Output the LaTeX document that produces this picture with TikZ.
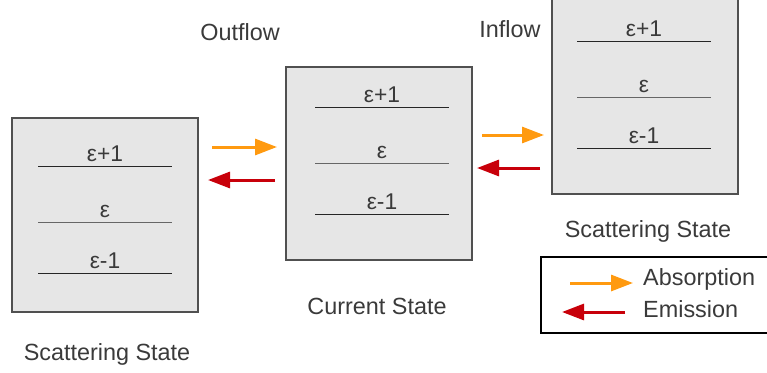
\documentclass[tikz,border=0pt]{standalone}
\usepackage{fontspec}
\setmainfont{Liberation Sans}
\usetikzlibrary{arrows.meta}
\definecolor{txt}{HTML}{3A3A3A}
\definecolor{boxfill}{HTML}{E6E6E6}
\definecolor{boxline}{HTML}{505050}
\definecolor{absorb}{HTML}{FF9A10}
\definecolor{emit}{HTML}{C8000A}
\tikzset{
  statebox/.style={draw=boxline, line width=1.4pt, fill=boxfill, minimum width=186pt, inner sep=0pt},
  level/.style={line width=0.9pt, draw=black!85},
  midlevel/.style={line width=0.9pt, draw=black!60},
  lvl/.style={anchor=south, inner sep=0pt, yshift=4pt, text=txt, font=\fontsize{22.8}{26}\selectfont},
  lbl/.style={text=txt, inner sep=0pt, font=\fontsize{23.4}{27}\selectfont},
  absarrow/.style={draw=absorb, line width=3pt, -{Triangle[length=22pt,width=16pt]}},
  emiarrow/.style={draw=emit, line width=3pt, -{Triangle[length=22pt,width=16pt]}},
}
% three energy levels inside a box: x-from, x-to, y of the three lines
\newcommand\energylevels[5]{%
  \draw[level] (#1,#3) -- node[lvl, pos=0.5] {ε+1} (#2,#3);
  \draw[midlevel] (#1,#4) -- node[lvl, pos=0.5] {ε} (#2,#4);
  \draw[level] (#1,#5) -- node[lvl, pos=0.5] {ε-1} (#2,#5);
}
\begin{document}
\begin{tikzpicture}[x=1pt, y=-1pt]
\useasboundingbox (0,0) rectangle (767,372);

% state boxes
\node[statebox, minimum height=194pt] (L) at (105,215) {};
\node[statebox, minimum height=193pt] (C) at (379,163.5) {};
\node[statebox, minimum height=195pt] (R) at (645,96.5) {};

\energylevels{38}{172}{166}{222}{273}
\energylevels{315}{449}{107}{163}{214}
\energylevels{577}{711}{41}{97}{148}

% captions
\node[lbl] (capL) at (107,354) {Scattering State};
\node[lbl] (capC) at (377,306) {Current State};
\node[lbl] (capR) at (648,231) {Scattering State};
\node[lbl] (out) at (240,32) {Outflow};
\node[lbl] (in) at (510,29) {Inflow};

% transfers between the boxes
\coordinate (a1s) at (212,147); \coordinate (a1e) at (277,147);
\coordinate (e1s) at (275,180); \coordinate (e1e) at (208,180);
\coordinate (a2s) at (482,135); \coordinate (a2e) at (544,135);
\coordinate (e2s) at (540,168); \coordinate (e2e) at (477,168);
\draw[absarrow] (a1s) -- (a1e);
\draw[emiarrow] (e1s) -- (e1e);
\draw[absarrow] (a2s) -- (a2e);
\draw[emiarrow] (e2s) -- (e2e);

% legend
\node[draw=black, line width=1.4pt, minimum width=227pt, minimum height=76pt, inner sep=0pt] (leg) at (654.5,295) {};
\coordinate (la1) at (570,283); \coordinate (la2) at (633,283);
\coordinate (le1) at (625,312); \coordinate (le2) at (562,312);
\draw[absarrow] (la1) -- (la2);
\draw[emiarrow] (le1) -- (le2);
\node[lbl, anchor=west] (labs) at (643,279) {Absorption};
\node[lbl, anchor=west] (lemi) at (643,309) {Emission};
\end{tikzpicture}
\end{document}
